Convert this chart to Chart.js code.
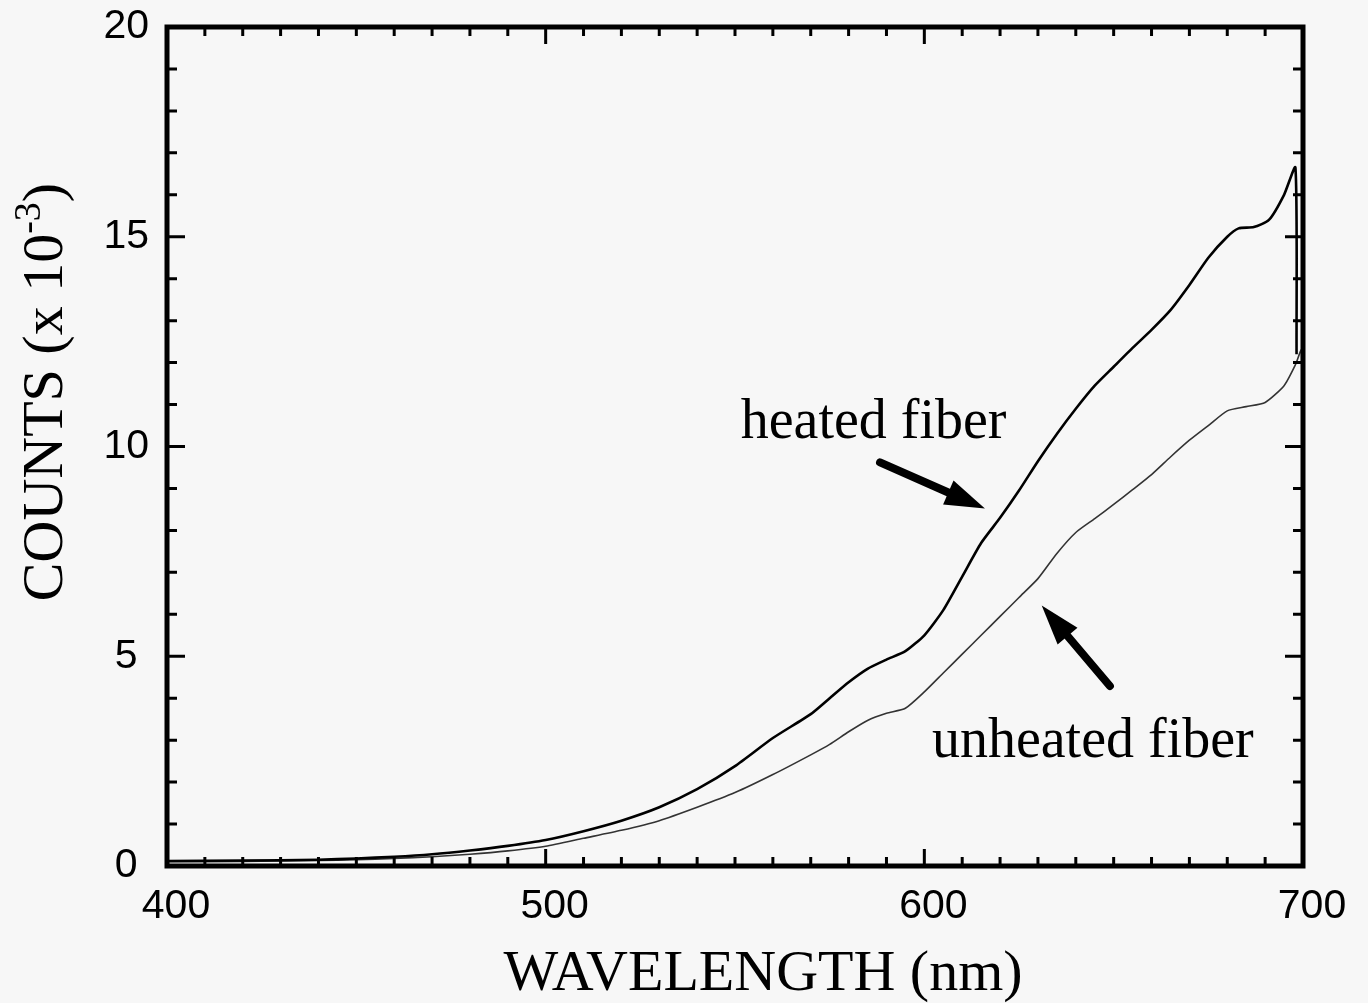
<!DOCTYPE html>
<html>
<head>
<meta charset="utf-8">
<script src="https://cdn.jsdelivr.net/npm/chart.js@4.4.0/dist/chart.umd.min.js"></script>
<style>
  html, body { margin: 0; padding: 0; background: #f7f7f7; }
  canvas { display: block; }
</style>
</head>
<body>
<canvas id="spectrum" width="1368" height="1003"></canvas>
<script>
// wavelength (nm) vs counts (x 10^-3)
const heatedWl = [400, 420, 440, 450, 460, 470, 480, 490, 500, 510, 520, 530, 540, 550, 560, 570, 575, 580, 585, 590, 595, 600, 605, 610, 615, 620, 625, 630, 635, 640, 645, 650, 655, 660, 665, 670, 675, 680, 683, 687, 691, 695, 698, 698.3];
const heated   = [0.12, 0.13, 0.15, 0.18, 0.22, 0.28, 0.37, 0.48, 0.62, 0.83, 1.08, 1.40, 1.83, 2.38, 3.05, 3.62, 4.0, 4.38, 4.7, 4.92, 5.12, 5.5, 6.1, 6.9, 7.7, 8.3, 8.95, 9.65, 10.3, 10.9, 11.45, 11.9, 12.35, 12.78, 13.25, 13.85, 14.5, 15.0, 15.2, 15.23, 15.4, 16.0, 16.65, 12.2];

const unheatedWl = [400, 420, 440, 450, 460, 470, 480, 490, 500, 510, 520, 530, 540, 550, 560, 570, 575, 580, 585, 590, 595, 600, 605, 610, 615, 620, 625, 630, 635, 640, 645, 650, 655, 660, 665, 670, 675, 680, 685, 690, 695, 698, 699.6, 699.8];
const unheated   = [0.1, 0.11, 0.13, 0.15, 0.18, 0.22, 0.28, 0.36, 0.47, 0.66, 0.85, 1.08, 1.40, 1.75, 2.18, 2.65, 2.9, 3.2, 3.47, 3.64, 3.76, 4.15, 4.6, 5.05, 5.5, 5.95, 6.4, 6.85, 7.45, 7.95, 8.28, 8.62, 8.97, 9.33, 9.75, 10.15, 10.5, 10.85, 10.95, 11.05, 11.45, 11.95, 12.3, 5.9];

const xTicks = [400, 500, 600, 700];
const yTicks = [0, 5, 10, 15, 20];

// labels with arrows, in data units
const notes = [
  { text: 'heated fiber',   at: [551.5, 10.2], tail: [588.3, 9.62], tip: [616.0, 8.52] },
  { text: 'unheated fiber', at: [602.0, 2.6],  tail: [649.0, 4.29], tip: [631.0, 6.21] }
];

function pts(xs, ys) { return xs.map((x, i) => ({ x: x, y: ys[i] })); }

const sans = '"Liberation Sans", Arial, sans-serif';
const serif = '"Liberation Serif", "Times New Roman", serif';

function arrow(ctx, x0, y0, x1, y1) {
  const ang = Math.atan2(y1 - y0, x1 - x0);
  const head = 40, half = 13;
  const bx = x1 - head * Math.cos(ang), by = y1 - head * Math.sin(ang);
  ctx.lineWidth = 8;
  ctx.lineCap = 'round';
  ctx.beginPath(); ctx.moveTo(x0, y0); ctx.lineTo(bx, by); ctx.stroke();
  ctx.beginPath();
  ctx.moveTo(x1, y1);
  ctx.lineTo(bx + half * Math.sin(ang), by - half * Math.cos(ang));
  ctx.lineTo(bx - half * Math.sin(ang), by + half * Math.cos(ang));
  ctx.closePath(); ctx.fill();
}

const framePlugin = {
  id: 'frame',
  afterDatasetsDraw(chart) {
    const ctx = chart.ctx;
    const { left, right, top, bottom } = chart.chartArea;
    const xs = chart.scales.x, ys = chart.scales.y;
    ctx.save();
    ctx.strokeStyle = '#000'; ctx.fillStyle = '#000';
    ctx.lineWidth = 3;
    // inward ticks, minor every 10 nm / 1 count
    for (let v = 400; v <= 700; v += 10) {
      const px = xs.getPixelForValue(v);
      const len = v % 100 === 0 ? 17 : 9;
      ctx.beginPath();
      ctx.moveTo(px, bottom); ctx.lineTo(px, bottom - len);
      ctx.moveTo(px, top); ctx.lineTo(px, top + len);
      ctx.stroke();
    }
    for (let v = 0; v <= 20; v += 1) {
      const py = ys.getPixelForValue(v);
      const len = v % 5 === 0 ? 18 : 10;
      ctx.beginPath();
      ctx.moveTo(left, py); ctx.lineTo(left + len, py);
      ctx.moveTo(right, py); ctx.lineTo(right - len, py);
      ctx.stroke();
    }
    ctx.lineWidth = 5;
    ctx.strokeRect(left, top, right - left, bottom - top);

    // annotations
    ctx.font = '56px ' + serif;
    ctx.textAlign = 'left'; ctx.textBaseline = 'alphabetic';
    notes.forEach(n => {
      ctx.fillText(n.text, xs.getPixelForValue(n.at[0]), ys.getPixelForValue(n.at[1]));
      arrow(ctx, xs.getPixelForValue(n.tail[0]), ys.getPixelForValue(n.tail[1]),
                 xs.getPixelForValue(n.tip[0]), ys.getPixelForValue(n.tip[1]));
    });

    // x axis title
    ctx.font = '58px ' + serif;
    ctx.textAlign = 'center';
    ctx.fillText('WAVELENGTH (nm)', (left + right) / 2 + 28, 990);

    // y axis title with superscript
    ctx.translate(62, 392);
    ctx.rotate(-Math.PI / 2);
    const main = 'COUNTS (x 10', sup = '-3', end = ')';
    const supFont = '38px ' + serif;
    ctx.font = '58px ' + serif;
    const wMain = ctx.measureText(main).width, wEnd = ctx.measureText(end).width;
    ctx.font = supFont;
    const wSup = ctx.measureText(sup).width;
    let x = -(wMain + wSup + wEnd) / 2;
    ctx.textAlign = 'left';
    ctx.font = '58px ' + serif;
    ctx.fillText(main, x, 0); x += wMain;
    ctx.font = supFont;
    ctx.fillText(sup, x, -22); x += wSup;
    ctx.font = '58px ' + serif;
    ctx.fillText(end, x, 0);
    ctx.restore();
  }
};

new Chart(document.getElementById('spectrum').getContext('2d'), {
  type: 'line',
  data: {
    datasets: [
      { label: 'heated fiber', data: pts(heatedWl, heated), borderColor: '#000', borderWidth: 2.6, pointRadius: 0, tension: 0.2 },
      { label: 'unheated fiber', data: pts(unheatedWl, unheated), borderColor: '#333', borderWidth: 1.6, pointRadius: 0, tension: 0.2 }
    ]
  },
  options: {
    responsive: false,
    animation: false,
    layout: { padding: { top: 27, right: 65, left: 0, bottom: 0 } },
    plugins: { legend: { display: false }, tooltip: { enabled: false } },
    scales: {
      x: {
        type: 'linear', min: 400, max: 700,
        afterBuildTicks: s => { s.ticks = xTicks.map(v => ({ value: v })); },
        afterFit: s => { s.height = 137; s.paddingLeft = 0; s.paddingRight = 0; },
        grid: { display: false, drawTicks: false },
        border: { display: false },
        ticks: { color: '#000', font: { family: sans, size: 41 }, padding: 16, labelOffset: 9, maxRotation: 0 }
      },
      y: {
        type: 'linear', min: 0, max: 20,
        afterBuildTicks: s => { s.ticks = yTicks.map(v => ({ value: v })); },
        afterFit: s => { s.width = 167; s.paddingTop = 0; s.paddingBottom = 0; },
        grid: { display: false, drawTicks: false },
        border: { display: false },
        ticks: { color: '#000', font: { family: sans, size: 41 }, padding: 18, crossAlign: 'center' }
      }
    }
  },
  plugins: [framePlugin]
});
</script>
</body>
</html>
